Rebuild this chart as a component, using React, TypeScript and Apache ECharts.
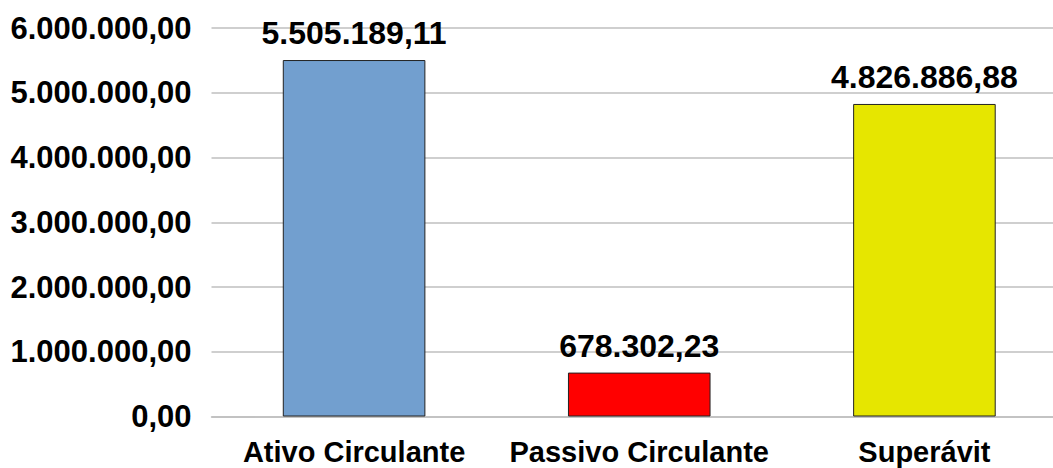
import React, { useEffect, useRef } from "react";
import * as echarts from "echarts";

const categories = ["Ativo Circulante", "Passivo Circulante", "Superávit"];
const values = [5505189.11, 678302.23, 4826886.88];
const barColors = ["#729fcf", "#ff0000", "#e6e600"];
const yMin = 0;
const yMax = 6000000;
const yInterval = 1000000;

function fmtBR(v: number): string {
  const neg = v < 0;
  const abs = Math.abs(v);
  const fixed = abs.toFixed(2);
  const [intPart, dec] = fixed.split(".");
  const withDots = intPart.replace(/\B(?=(\d{3})+(?!\d))/g, ".");
  return (neg ? "-" : "") + withDots + "," + dec;
}

export default function App() {
  const ref = useRef<HTMLDivElement>(null);
  useEffect(() => {
    if (!ref.current) return;
    const chart = echarts.init(ref.current, undefined, { renderer: "svg" });
    const font = "'Liberation Sans', Arial, sans-serif";
    chart.setOption({
      animation: false,
      grid: { left: 211.5, top: 28, right: 0, bottom: 51.5, containLabel: false },
      xAxis: {
        type: "category",
        data: categories,
        axisLine: { show: true, lineStyle: { color: "#bfbfbf", width: 1.5 } },
        axisTick: { show: false },
        axisLabel: {
          interval: 0,
          margin: 21,
          color: "#000",
          fontSize: 29,
          fontWeight: "bold",
          fontFamily: font,
        },
      },
      yAxis: {
        type: "value",
        min: yMin,
        max: yMax,
        interval: yInterval,
        axisLine: { show: false },
        axisTick: { show: false },
        splitLine: { show: true, lineStyle: { color: "#bfbfbf", width: 1.5 } },
        axisLabel: {
          margin: 20,
          color: "#000",
          fontSize: 31,
          fontWeight: "bold",
          fontFamily: font,
          formatter: (v: number) => fmtBR(v),
        },
      },
      series: [
        {
          type: "bar",
          barWidth: "50%",
          data: values.map((v, i) => ({
            value: v,
            itemStyle: { color: barColors[i], borderColor: "#222", borderWidth: 1 },
          })),
          label: {
            show: true,
            position: "top",
            distance: 11,
            color: "#000",
            fontSize: 32,
            fontWeight: "bold",
            fontFamily: font,
            formatter: (p: any) => fmtBR(p.value),
          },
        },
      ],
    });
    return () => chart.dispose();
  }, []);
  return (
    <div style={{ position: "fixed", left: 0, top: 0, width: 1053, height: 468, overflow: "hidden", background: "#fff" }}>
      <div ref={ref} style={{ width: 1067, height: 468 }} />
    </div>
  );
}
